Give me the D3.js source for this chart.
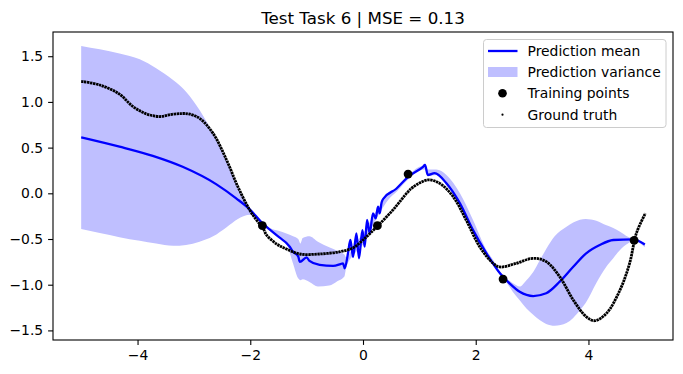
<!DOCTYPE html>
<html>
<head>
<meta charset="utf-8">
<script src="https://cdn.jsdelivr.net/npm/d3@7"></script>
<style>
  body { margin: 0; background: #fff; }
  svg { display: block; font-family: "DejaVu Sans", sans-serif; }
</style>
</head>
<body>
<svg class="plot" width="683" height="374"></svg>
<script>
// data
var title = "Test Task 6 | MSE = 0.13"

var xTicks = [-4, -2, 0, 2, 4]
var yTicks = [-1.5, -1.0, -0.5, 0.0, 0.5, 1.0, 1.5]

// prediction mean (blue line)
var meanX = [-5.0, -4.32, -3.73, -3.2, -2.6, -2.25, -2.01, -1.8, -1.54, -1.3, -1.24, -1.15, -1.12, -1.0, -0.95, -0.77, -0.53, -0.4, -0.355, -0.325,
  -0.266, -0.224, -0.177, -0.117, -0.071, -0.011, 0.03, 0.071, 0.119, 0.177, 0.225, 0.266, 0.296, 0.33, 0.36, 0.59, 0.8, 1.065, 1.1, 1.15, 1.27, 1.48, 1.72, 1.95, 2.19, 2.43, 2.6, 2.78, 3.02, 3.25, 3.49, 3.73, 3.96, 4.2, 4.44, 4.79, 5.0]
var meanY = [0.613, 0.511, 0.41, 0.29, 0.098, -0.055, -0.175, -0.317, -0.456, -0.584, -0.64, -0.69, -0.75, -0.7, -0.74, -0.784, -0.795, -0.775, -0.766, -0.82,
  -0.656, -0.511, -0.694, -0.438, -0.711, -0.402, -0.584, -0.292, -0.438, -0.219, -0.274, -0.147, -0.219, -0.1, -0.06, 0.05, 0.18, 0.29, 0.31, 0.2, 0.22, 0.11, -0.11, -0.4, -0.656, -0.875, -0.985, -1.077, -1.124, -1.094, -0.967, -0.803, -0.656, -0.566, -0.511, -0.503, -0.56]

// prediction variance band
var bandX = [-5.0, -4.67, -4.32, -3.96, -3.67, -3.37, -3.14, -2.9, -2.66, -2.42, -2.22, -2.0, -1.9, -1.78, -1.65, -1.5, -1.36, -1.24, -1.15, -1.11, -1.07, -0.95, -0.8, -0.6, -0.45, -0.33, -0.3,
  -0.15, 0.0, 0.15, 0.3, 0.45, 0.6, 0.8, 1.0, 1.1, 1.15, 1.3, 1.48, 1.72, 1.95, 2.19, 2.31, 2.43, 2.54, 2.66, 2.78, 2.9, 3.02, 3.14, 3.25, 3.4, 3.61, 3.85, 3.95, 4.14, 4.32, 4.44, 4.56, 4.7, 4.8, 5.0]
var bandHi = [1.612, 1.575, 1.531, 1.466, 1.368, 1.24, 1.112, 0.912, 0.656, 0.364, 0.072, -0.17, -0.27, -0.31, -0.38, -0.41, -0.44, -0.47, -0.5, -0.55, -0.49, -0.47, -0.53, -0.59, -0.63, -0.67, -0.7,
  -0.56, -0.44, -0.28, -0.13, -0.02, 0.06, 0.19, 0.29, 0.3, 0.26, 0.26, 0.2, 0.0, -0.29, -0.62, -0.73, -0.86, -0.93, -0.985, -1.02, -0.95, -0.86, -0.73, -0.61, -0.47, -0.365, -0.29, -0.28, -0.3, -0.35, -0.38, -0.42, -0.475, -0.5, -0.545]
var bandLo = [-0.39, -0.435, -0.48, -0.52, -0.55, -0.575, -0.565, -0.53, -0.47, -0.37, -0.28, -0.235, -0.265, -0.36, -0.41, -0.47, -0.55, -0.77, -0.93, -0.95, -0.94, -0.97, -1.02, -1.01, -0.96, -0.91, -0.82,
  -0.66, -0.56, -0.38, -0.21, -0.07, 0.02, 0.15, 0.25, 0.26, 0.19, 0.2, 0.09, -0.13, -0.42, -0.67, -0.78, -0.89, -0.97, -1.08, -1.17, -1.26, -1.33, -1.39, -1.43, -1.45, -1.42, -1.28, -1.2, -0.98, -0.8, -0.71, -0.62, -0.55, -0.52, -0.59]

// training points
var trainX = [-1.785, 0.255, 0.8, 2.485, 4.81]
var trainY = [-0.354, -0.354, 0.211, -0.938, -0.515]

// ground truth
var truthX = [-5.0, -4.67, -4.32, -4.09, -3.85, -3.61, -3.39, -3.21, -3.09, -2.9, -2.66, -2.42, -2.22, -2.01, -1.89, -1.775, -1.71, -1.53, -1.36, -1.12, -0.77, -0.41, -0.18, 0.0,
  0.24, 0.53, 0.8, 0.89, 1.15, 1.36, 1.6, 1.83, 2.07, 2.31, 2.43, 2.72, 3.02, 3.25, 3.49, 3.73, 3.96, 4.11, 4.32, 4.56, 4.73, 4.85, 5.01]
var truthY = [1.225, 1.185, 1.085, 0.954, 0.871, 0.84, 0.864, 0.873, 0.868, 0.821, 0.656, 0.364, 0.072, -0.183, -0.292, -0.38, -0.457, -0.555, -0.609, -0.664, -0.664, -0.639, -0.598, -0.511,
  -0.369, -0.183, 0.018, 0.069, 0.146, 0.109, -0.037, -0.292, -0.584, -0.766, -0.806, -0.766, -0.711, -0.748, -0.912, -1.167, -1.35, -1.394, -1.313, -1.058, -0.766, -0.438, -0.219]

var legendLabels = ["Prediction mean", "Prediction variance", "Training points", "Ground truth"]

var blue = "#0000ff"
var bandColor = "#bfbfff"

var margin = {top: 32, right: 10, bottom: 34, left: 53},
    width = 683 - margin.left - margin.right,
    height = 374 - margin.top - margin.bottom

var x = d3.scaleLinear().domain([-5.5, 5.5]).range([0, width])
var y = d3.scaleLinear().domain([-1.605, 1.765]).range([height, 0])

var svg = d3.select(".plot")
var plot = svg.append("g")
    .attr("transform", `translate(${margin.left}, ${margin.top})`)

var fmt = d => d3.format(".0f")(d).replace("-", "\u2212")
var fmtY = d => d3.format(".1f")(d).replace("-", "\u2212")

// band
var band = d3.area()
    .x((d, i) => x(bandX[i]))
    .y0((d, i) => y(bandLo[i]))
    .y1((d, i) => y(bandHi[i]))
    .curve(d3.curveMonotoneX)

plot.append("path")
    .datum(bandX)
    .attr("d", band)
    .attr("fill", bandColor)

// mean line
var meanLine = d3.line()
    .x((d, i) => x(meanX[i]))
    .y((d, i) => y(meanY[i]))
    .curve(d3.curveMonotoneX)

plot.append("path")
    .datum(meanX)
    .attr("d", meanLine)
    .attr("fill", "none")
    .attr("stroke", blue)
    .attr("stroke-width", 2.3)
    .attr("stroke-linejoin", "round")

// training points
plot.selectAll("circle.train")
    .data(trainX)
    .enter()
    .append("circle")
    .attr("class", "train")
    .attr("cx", (d, i) => x(trainX[i]))
    .attr("cy", (d, i) => y(trainY[i]))
    .attr("r", 4.4)
    .attr("fill", "black")

// ground truth, dense dots
var truthLine = d3.line()
    .x((d, i) => x(truthX[i]))
    .y((d, i) => y(truthY[i]))
    .curve(d3.curveCatmullRom)

plot.append("path")
    .datum(truthX)
    .attr("d", truthLine)
    .attr("fill", "none")
    .attr("stroke", "black")
    .attr("stroke-width", 2.8)
    .attr("stroke-dasharray", "2.4,0.6")

// axes
plot.append("g")
    .attr("transform", `translate(0, ${height})`)
    .call(d3.axisBottom(x).tickValues(xTicks).tickFormat(fmt).tickSize(4.9).tickPadding(5.5).tickSizeOuter(0))
plot.append("g")
    .call(d3.axisLeft(y).tickValues(yTicks).tickFormat(fmtY).tickSize(4.9).tickPadding(4.9).tickSizeOuter(0))

plot.selectAll(".domain").remove()
plot.selectAll(".tick line").attr("stroke", "black").attr("stroke-width", 1.1)
plot.selectAll(".tick text")
    .attr("font-family", "DejaVu Sans")
    .attr("font-size", 13.9)
    .attr("fill", "black")

// frame
plot.append("rect")
    .attr("x", 0).attr("y", 0)
    .attr("width", width).attr("height", height)
    .attr("fill", "none")
    .attr("stroke", "black")
    .attr("stroke-width", 1.1)

// title
svg.append("text")
    .attr("x", margin.left + width / 2)
    .attr("y", 24)
    .attr("text-anchor", "middle")
    .attr("font-size", 16.7)
    .text(title)

// legend
var lg = svg.append("g")
lg.append("rect")
    .attr("x", 483.5).attr("y", 39.5)
    .attr("width", 182.5).attr("height", 88)
    .attr("rx", 3)
    .attr("fill", "white").attr("fill-opacity", 0.8)
    .attr("stroke", "#cccccc")

var rowY = [51, 72, 93.3, 114.7]
lg.append("line")
    .attr("x1", 488).attr("x2", 517.5)
    .attr("y1", rowY[0]).attr("y2", rowY[0])
    .attr("stroke", blue).attr("stroke-width", 2.3)
lg.append("rect")
    .attr("x", 488).attr("y", rowY[1] - 5)
    .attr("width", 29.5).attr("height", 10)
    .attr("fill", bandColor)
lg.append("circle")
    .attr("cx", 502.5).attr("cy", rowY[2]).attr("r", 4.3)
    .attr("fill", "black")
lg.append("circle")
    .attr("cx", 502.5).attr("cy", rowY[3]).attr("r", 1.1)
    .attr("fill", "black")

lg.selectAll("text")
    .data(legendLabels)
    .enter()
    .append("text")
    .attr("x", 527.5)
    .attr("y", (d, i) => rowY[i])
    .attr("dy", "0.36em")
    .attr("font-size", 13.9)
    .text(d => d)
</script>
</body>
</html>
